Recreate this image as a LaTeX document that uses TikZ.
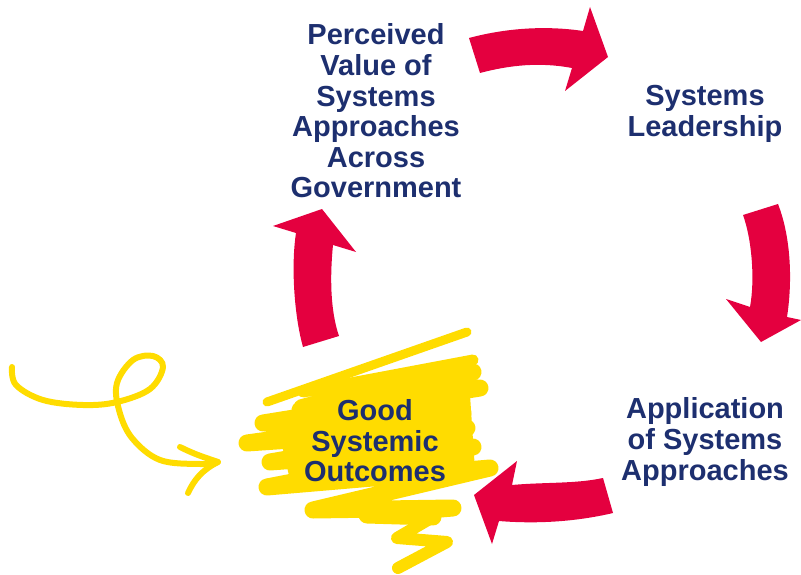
\documentclass[tikz,border=0pt]{standalone}
\usepackage{fontspec}
\setmainfont{Liberation Sans}
\definecolor{crim}{HTML}{E4003F}
\definecolor{navy}{HTML}{1D2F6F}
\definecolor{sun}{HTML}{FFDC00}
\begin{document}
\begin{tikzpicture}[x=1pt,y=-1pt,
  lbl/.style={text=navy,font=\fontsize{29}{30.6}\selectfont\bfseries,align=center,inner sep=0pt},
  bigarrow/.style={fill=crim,draw=none},
  scrib/.style={draw=sun,line width=17pt,line cap=round,line join=round},
  curl/.style={draw=sun,line width=6pt,line cap=round,line join=round}]
\useasboundingbox (0,0) rectangle (801,575);
% yellow scribble
\draw[scrib,line width=9pt] (467,332) -- (267,402);
\draw[scrib,line width=11pt] (303,392) -- (473,360) -- (300,405);
\draw[scrib] (300,410) -- (473,372) -- (303,410) -- (480,388) -- (263,423) -- (463,413)
  -- (247,443) -- (467,428) -- (270,462) -- (473,447) -- (267,487) -- (490,468)
  -- (313,510) -- (453,508) -- (367,515) -- (433,517);
\draw[scrib,line width=12pt] (433,517) -- (397,538) -- (447,542) -- (398,568);
\fill[sun] (275,415) -- (470,395) -- (475,470) -- (290,480) -- cycle;
% curly arrow
\draw[curl] plot[smooth,tension=0.6] coordinates {(12,367) (16,385) (43,400) (83,405) (117,402)
  (150,389) (163,367) (153,356) (133,360) (117,383) (119,410) (132,438) (160,460) (200,464) (218,462)};
\draw[curl] (180,447) .. controls (198,456) and (210,459) .. (218,462) .. controls (202,470) and (194,480) .. (188,493);
% red arrows
\path[bigarrow] (469,38) .. controls (510,27) and (550,26) .. (583,31) -- (590,7) -- (608,57)
  -- (565,91) -- (572,68) .. controls (540,62) and (510,65) .. (480,73) -- cycle;
\path[bigarrow] (743,215) -- (778,204) .. controls (792,240) and (792,285) .. (787,317)
  -- (801,320) -- (761,342) -- (726,299) -- (750,307) .. controls (755,280) and (752,240) .. (743,215) -- cycle;
\path[bigarrow] (603,478) -- (613,513) .. controls (575,522) and (535,524) .. (499,521)
  -- (492,544) -- (474,495) -- (517,461) -- (512,485) .. controls (545,482) and (575,484) .. (603,478) -- cycle;
\path[bigarrow] (303,347) -- (339,336) .. controls (330,310) and (330,275) .. (333,245)
  -- (356,252) -- (322,209) -- (273,226) -- (296,233) .. controls (291,265) and (294,315) .. (303,347) -- cycle;
% labels
\node[lbl] (pv) at (376,111) {Perceived\\Value of\\Systems\\Approaches\\Across\\Government};
\node[lbl] (sl) at (705,114) {Systems\\Leadership};
\node[lbl] (ap) at (705,442) {Application\\of Systems\\Approaches};
\node[lbl] (gs) at (375,441) {Good\\Systemic\\Outcomes};
\end{tikzpicture}
\end{document}
